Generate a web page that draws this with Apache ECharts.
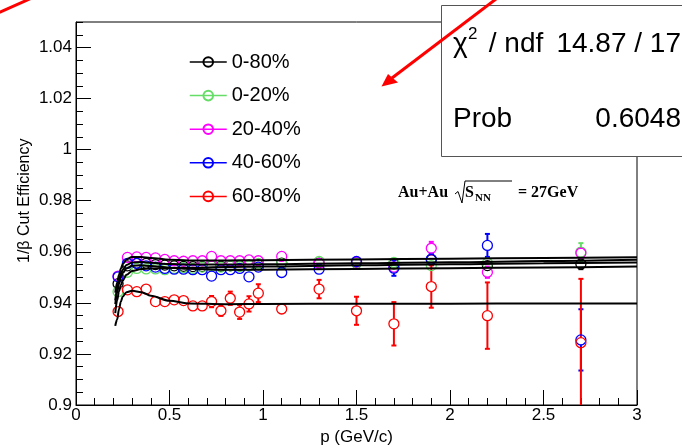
<!DOCTYPE html>
<html>
<head>
<meta charset="utf-8">
<script src="https://cdn.jsdelivr.net/npm/echarts@6/dist/echarts.min.js"></script>
<style>html,body{margin:0;padding:0;background:#fff;}#c{width:682px;height:445px;}</style>
</head>
<body>
<div id="c"></div>
<script>
// ---- data ----
var pBins = [0.225,0.275,0.325,0.375,0.425,0.475,0.525,0.575,0.625,0.675,0.725,0.775,0.825,0.875,0.925,0.975,1.1,1.3,1.5,1.7,1.9,2.2,2.7];
var seriesNames = ['0-80%','0-20%','20-40%','40-60%','60-80%'];
var eff0080 = [0.9475,0.9545,0.9555,0.9555,0.955,0.9548,0.9545,0.9543,0.9542,0.9542,0.9545,0.9543,0.9545,0.9545,0.9548,0.955,0.9556,0.9556,0.9556,0.9553,0.9569,0.9546,0.9552];
var err0080 = [0.0005,0.0005,0.0005,0.0005,0.0005,0.0005,0.0005,0.0005,0.0005,0.0005,0.0005,0.0005,0.0005,0.0005,0.0005,0.0005,0.0005,0.0006,0.0007,0.0008,0.001,0.0012,0.002];
var eff0020 = [0.9444,0.952,0.9535,0.9533,0.9533,0.953,0.9535,0.9538,0.9535,0.954,0.9545,0.954,0.9545,0.9542,0.9545,0.9555,0.9553,0.9562,0.9556,0.9558,0.9546,0.9556,0.9599];
var err0020 = [0.0006,0.0006,0.0006,0.0006,0.0006,0.0006,0.0006,0.0006,0.0006,0.0006,0.0006,0.0006,0.0006,0.0006,0.0006,0.0006,0.0007,0.0008,0.0009,0.001,0.0012,0.0015,0.0035];
var eff2040 = [0.9505,0.9578,0.958,0.9578,0.9576,0.957,0.9565,0.9563,0.9565,0.9565,0.9582,0.9565,0.9565,0.9565,0.9568,0.9565,0.9582,0.9555,0.956,0.954,0.9614,0.952,0.9595];
var err2040 = [0.0006,0.0006,0.0006,0.0006,0.0006,0.0006,0.0006,0.0006,0.0006,0.0006,0.0006,0.0006,0.0006,0.0006,0.0006,0.0006,0.0007,0.0008,0.001,0.0012,0.0025,0.0022,0.002];
var eff4060 = [0.9502,0.9555,0.9555,0.9545,0.954,0.9535,0.9532,0.9532,0.953,0.953,0.9505,0.953,0.953,0.9535,0.9502,0.954,0.9519,0.9532,0.9562,0.9536,0.9571,0.9625,0.9255];
var err4060 = [0.0007,0.0007,0.0007,0.0007,0.0007,0.0007,0.0007,0.0007,0.0007,0.0007,0.0007,0.0007,0.0007,0.0007,0.0008,0.0008,0.0009,0.001,0.0012,0.003,0.0022,0.0045,0.012];
var eff6080 = [0.9366,0.9451,0.9444,0.9454,0.9405,0.9405,0.9412,0.9409,0.9388,0.9388,0.9405,0.9369,0.9418,0.9364,0.9396,0.9438,0.9376,0.9454,0.9369,0.9318,0.9464,0.9350,0.9244];
var err6080 = [0.001,0.001,0.001,0.001,0.001,0.001,0.001,0.0011,0.0012,0.0013,0.0022,0.002,0.0026,0.0027,0.003,0.0035,0.0018,0.0036,0.0055,0.0085,0.0083,0.013,0.025];
var fitX = [0.21,0.22,0.23,0.24,0.25,0.27,0.3,0.35,0.4,0.5,0.6,0.8,1.0,1.5,2.0,2.5,3.0];
var fit0080 = [0.941,0.9455,0.949,0.9515,0.953,0.9548,0.9558,0.956,0.9557,0.9552,0.955,0.955,0.9551,0.9555,0.9559,0.9564,0.9569];
var fit0020 = [0.936,0.941,0.9445,0.947,0.9488,0.951,0.9525,0.9533,0.9535,0.9537,0.9538,0.954,0.9542,0.9547,0.9551,0.9555,0.9558];
var fit2040 = [0.944,0.948,0.951,0.9535,0.9552,0.957,0.958,0.958,0.9576,0.9569,0.9566,0.9566,0.9567,0.957,0.9573,0.9576,0.9579];
var fit4060 = [0.9395,0.944,0.9475,0.95,0.9517,0.9535,0.9545,0.9547,0.9544,0.9538,0.9534,0.953,0.953,0.9533,0.9536,0.9539,0.9542];
var fit6080 = [0.931,0.9335,0.9375,0.9405,0.9425,0.9442,0.9447,0.9442,0.9428,0.9408,0.9398,0.9395,0.9396,0.9397,0.9397,0.9398,0.9398];
var colors = ['#000000','#66dd66','#ff00ff','#0000ff','#ff0000'];
var stats = {chi: '14.87 / 17', prob: '0.6048'};

var FONT = '"Liberation Sans", Arial, sans-serif';
var SERIF = '"Liberation Serif", "Times New Roman", serif';
var effs = [eff0080, eff0020, eff2040, eff4060, eff6080];
var errs = [err0080, err0020, err2040, err4060, err6080];
var fits = [fit0080, fit0020, fit2040, fit4060, fit6080];

function zip(xs, ys, es) {
  return xs.map(function (x, i) { return es ? [x, ys[i], es[i]] : [x, ys[i]]; });
}

var series = [];
// error bars
effs.forEach(function (e, k) {
  series.push({
    type: 'custom', name: seriesNames[k] + ' err', xAxisIndex: 0, yAxisIndex: 0, clip: true, z: 3,
    data: zip(pBins, e, errs[k]),
    renderItem: function (params, api) {
      var x = api.value(0), y = api.value(1), er = api.value(2);
      var c = api.coord([x, y]);
      var t = api.coord([x, y + er]);
      var b = api.coord([x, y - er]);
      var r = 5, cw = 2.5;
      var st = {stroke: colors[k], lineWidth: 2};
      var ch = [];
      if (c[1] - t[1] > r) {
        ch.push({type: 'line', shape: {x1: c[0], y1: t[1], x2: c[0], y2: c[1] - r}, style: st});
        ch.push({type: 'line', shape: {x1: c[0] - cw, y1: t[1], x2: c[0] + cw, y2: t[1]}, style: st});
        ch.push({type: 'line', shape: {x1: c[0], y1: c[1] + r, x2: c[0], y2: b[1]}, style: st});
        ch.push({type: 'line', shape: {x1: c[0] - cw, y1: b[1], x2: c[0] + cw, y2: b[1]}, style: st});
      }
      return {type: 'group', children: ch};
    }
  });
});
// points
effs.forEach(function (e, k) {
  series.push({
    type: 'line', name: seriesNames[k], xAxisIndex: 0, yAxisIndex: 0, z: 4,
    data: zip(pBins, e),
    symbol: 'circle', symbolSize: 10, showSymbol: true,
    color: colors[k],
    lineStyle: {color: colors[k], opacity: 0, width: 0},
    itemStyle: {color: 'rgba(255,255,255,0)', borderColor: colors[k], borderWidth: 1.3},
    emphasis: {disabled: true}, animation: false
  });
});
// fits
fits.forEach(function (f, k) {
  series.push({
    type: 'line', name: 'fit ' + seriesNames[k], xAxisIndex: 0, yAxisIndex: 0, z: 5,
    data: zip(fitX, f), showSymbol: false, symbol: 'none', smooth: 0.35, smoothMonotone: 'x',
    lineStyle: {color: '#000', width: 2}, silent: true, animation: false
  });
});

var chart = echarts.init(document.getElementById('c'), null, {renderer: 'canvas'});
chart.setOption({
  animation: false,
  backgroundColor: '#fff',
  grid: {left: 76, top: 22, width: 561, height: 383, show: true, borderColor: '#000', borderWidth: 1,
    backgroundColor: 'transparent', containLabel: false, outerBoundsMode: 'none'},
  xAxis: [{
    type: 'value', min: 0, max: 3, interval: 0.5,
    axisLine: {lineStyle: {color: '#000', width: 1}},
    axisTick: {inside: true, length: 15, lineStyle: {color: '#000'}},
    minorTick: {show: true, splitNumber: 5, length: 7, lineStyle: {color: '#000'}},
    splitLine: {show: false},
    axisLabel: {color: '#000', fontSize: 17, fontFamily: FONT, margin: 2},
    name: 'p (GeV/c)', nameLocation: 'middle', nameGap: 15,
    nameTextStyle: {color: '#000', fontSize: 17, fontFamily: FONT}
  }],
  yAxis: [{
    type: 'value', min: 0.9, max: 1.05, interval: 0.02, position: 'left',
    axisLine: {show: true, lineStyle: {color: '#000', width: 1}},
    axisTick: {inside: true, length: 15, lineStyle: {color: '#000'}},
    splitLine: {show: false},
    axisLabel: {color: '#000', fontSize: 17, fontFamily: FONT, margin: 4, showMaxLabel: false,
      formatter: function (v) { return String(parseFloat(v.toFixed(3))); }}
  }, {
    type: 'value', min: 0.9, max: 1.05, interval: 0.005, position: 'left', offset: 0,
    axisLine: {show: false},
    axisTick: {show: true, inside: true, length: 7, lineStyle: {color: '#000'}},
    splitLine: {show: false},
    axisLabel: {show: false}
  }],
  legend: {
    orient: 'vertical', left: 189, top: 52, padding: 0, itemWidth: 37, itemHeight: 12, itemGap: 13.6,
    selectedMode: false, data: seriesNames,
    textStyle: {color: '#000', fontSize: 20, fontFamily: FONT},
    lineStyle: {width: 1.5, opacity: 1}
  },
  series: series,
  graphic: [
    {type: 'text', z: 10, rotation: Math.PI / 2, style: {text: '1/β Cut Efficiency', fontSize: 16, fontFamily: FONT, fill: '#000'},
      x: 17, y: 263},
    // collision label
    {type: 'text', x: 398, y: 193, z: 10, style: {text: 'Au+Au', fontSize: 16, fontWeight: 'bold', fontFamily: SERIF, fill: '#000', verticalAlign: 'middle'}},
    {type: 'polyline', z: 10, shape: {points: [[455, 194], [458, 191.5], [462, 203], [465, 181], [512, 181]]}, style: {stroke: '#000', lineWidth: 1, fill: null}},
    {type: 'text', x: 465, y: 193, z: 10, style: {text: 'S', fontSize: 16, fontWeight: 'bold', fontFamily: SERIF, fill: '#000', verticalAlign: 'middle'}},
    {type: 'text', x: 475, y: 198, z: 10, style: {text: 'NN', fontSize: 11, fontWeight: 'bold', fontFamily: SERIF, fill: '#000', verticalAlign: 'middle'}},
    {type: 'text', x: 518, y: 193, z: 10, style: {text: '= 27GeV', fontSize: 16, fontWeight: 'bold', fontFamily: SERIF, fill: '#000', verticalAlign: 'middle'}},
    // stats box
    {type: 'rect', z: 20, shape: {x: 441.5, y: 5.5, width: 260, height: 151}, style: {fill: '#fff', stroke: '#555', lineWidth: 1}},
    {type: 'text', x: 453, y: 44, z: 21, style: {text: 'χ', fontSize: 28, fontFamily: FONT, fill: '#000', verticalAlign: 'middle'}},
    {type: 'text', x: 468, y: 34, z: 21, style: {text: '2', fontSize: 17, fontFamily: FONT, fill: '#000', verticalAlign: 'middle'}},
    {type: 'text', x: 481, y: 44, z: 21, style: {text: ' / ndf', fontSize: 28, fontFamily: FONT, fill: '#000', verticalAlign: 'middle'}},
    {type: 'text', x: 681, y: 44, z: 21, style: {text: stats.chi, fontSize: 28, fontFamily: FONT, fill: '#000', align: 'right', verticalAlign: 'middle'}},
    {type: 'text', x: 453, y: 119, z: 21, style: {text: 'Prob', fontSize: 28, fontFamily: FONT, fill: '#000', verticalAlign: 'middle'}},
    {type: 'text', x: 681, y: 119, z: 21, style: {text: stats.prob, fontSize: 28, fontFamily: FONT, fill: '#000', align: 'right', verticalAlign: 'middle'}},
    // red arrows
    {type: 'line', z: 30, shape: {x1: 500, y1: -4, x2: 392, y2: 78}, style: {stroke: '#ff0000', lineWidth: 3}},
    {type: 'polygon', z: 30, shape: {points: [[381.5, 86.5], [388, 74], [398, 82.5]]}, style: {fill: '#ff0000'}},
    {type: 'line', z: 30, shape: {x1: -4, y1: 14, x2: 34, y2: -3}, style: {stroke: '#ff0000', lineWidth: 3}}
  ]
});
</script>
</body>
</html>
